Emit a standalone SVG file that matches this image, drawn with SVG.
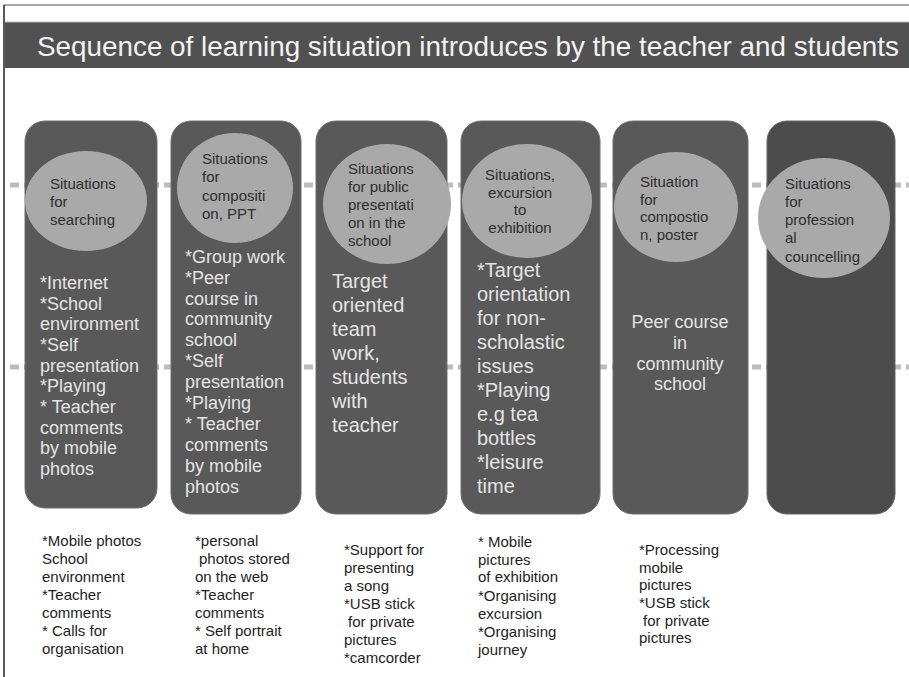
<svg xmlns="http://www.w3.org/2000/svg" width="909" height="677" viewBox="0 0 909 677">
<style>
.col{fill:#595959;stroke:#707070;stroke-width:1}
.col6{fill:#4c4c4c;stroke:#666;stroke-width:1}
.bub{fill:#a9a9a9}
.bt{font-family:"Liberation Sans",Arial,sans-serif;font-size:15px;fill:#2e2e2e}
.body{font-family:"Liberation Sans",Arial,sans-serif;font-size:18px;fill:#e4e4e4}
.big{font-family:"Liberation Sans",Arial,sans-serif;font-size:20px;fill:#e4e4e4}
.note{font-family:"Liberation Sans",Arial,sans-serif;font-size:15px;fill:#1e1e1e}
.guide{stroke:#bcbcbc;stroke-width:5;stroke-dasharray:9 5;fill:none}
</style>
<rect x="0" y="0" width="909" height="677" fill="#ffffff"/>
<line x1="4" y1="5" x2="909" y2="5" stroke="#8a8a8a" stroke-width="1.5"/>
<line x1="4" y1="5" x2="4" y2="677" stroke="#222" stroke-width="1.5"/>
<g id="title">
<rect x="5" y="22" width="904" height="46" fill="#515151"/>
<line x1="5" y1="22" x2="909" y2="22" stroke="#bbb" stroke-width="1"/>
<text x="37" y="56" font-family="'Liberation Sans',Arial,sans-serif" font-size="28" fill="#f2f2f2" textLength="862" lengthAdjust="spacingAndGlyphs">Sequence of learning situation introduces by the teacher and students</text>
</g>
<g id="connectors">
<line class="guide" x1="10" y1="185" x2="909" y2="185"/>
<line class="guide" x1="10" y1="367" x2="909" y2="367"/>
</g>
<g id="col1">
<rect class="col" x="25" y="121" width="132" height="387" rx="20"/>
<ellipse class="bub" cx="86" cy="201" rx="61" ry="50"/>
<text class="bt"><tspan x="50" y="189">Situations</tspan><tspan x="50" y="207">for</tspan><tspan x="50" y="225">searching</tspan></text>
<text class="body"><tspan x="40" y="289">*Internet</tspan><tspan x="40" y="310">*School</tspan><tspan x="40" y="330">environment</tspan><tspan x="40" y="351">*Self</tspan><tspan x="40" y="372">presentation</tspan><tspan x="40" y="392">*Playing</tspan><tspan x="40" y="413">* Teacher</tspan><tspan x="40" y="434">comments</tspan><tspan x="40" y="454">by mobile</tspan><tspan x="40" y="475">photos</tspan></text>
</g>
<g id="col2">
<rect class="col" x="171" y="121" width="130" height="393" rx="20"/>
<ellipse class="bub" cx="235" cy="188" rx="58" ry="55"/>
<text class="bt"><tspan x="202" y="164">Situations</tspan><tspan x="202" y="182">for</tspan><tspan x="202" y="201">compositi</tspan><tspan x="202" y="219">on, PPT</tspan></text>
<text class="body"><tspan x="185" y="263">*Group work</tspan><tspan x="185" y="284">*Peer</tspan><tspan x="185" y="305">course in</tspan><tspan x="185" y="325">community</tspan><tspan x="185" y="346">school</tspan><tspan x="185" y="367">*Self</tspan><tspan x="185" y="388">presentation</tspan><tspan x="185" y="409">*Playing</tspan><tspan x="185" y="430">* Teacher</tspan><tspan x="185" y="451">comments</tspan><tspan x="185" y="472">by mobile</tspan><tspan x="185" y="493">photos</tspan></text>
</g>
<g id="col3">
<rect class="col" x="316" y="121" width="131" height="393" rx="20"/>
<ellipse class="bub" cx="387" cy="204" rx="64" ry="60"/>
<text class="bt"><tspan x="348" y="174">Situations</tspan><tspan x="348" y="192">for public</tspan><tspan x="348" y="210">presentati</tspan><tspan x="348" y="228">on in the</tspan><tspan x="348" y="246">school</tspan></text>
<text class="big"><tspan x="332" y="288">Target</tspan><tspan x="332" y="312">oriented</tspan><tspan x="332" y="336">team</tspan><tspan x="332" y="360">work,</tspan><tspan x="332" y="384">students</tspan><tspan x="332" y="408">with</tspan><tspan x="332" y="432">teacher</tspan></text>
</g>
<g id="col4">
<rect class="col" x="461" y="121" width="139" height="393" rx="20"/>
<ellipse class="bub" cx="527" cy="201" rx="65" ry="57"/>
<text class="bt" text-anchor="middle"><tspan x="520" y="180">Situations,</tspan><tspan x="520" y="198">excursion</tspan><tspan x="520" y="215">to</tspan><tspan x="520" y="233">exhibition</tspan></text>
<text class="big"><tspan x="477" y="277">*Target</tspan><tspan x="477" y="301">orientation</tspan><tspan x="477" y="325">for non-</tspan><tspan x="477" y="349">scholastic</tspan><tspan x="477" y="373">issues</tspan><tspan x="477" y="397">*Playing</tspan><tspan x="477" y="421">e.g tea</tspan><tspan x="477" y="445">bottles</tspan><tspan x="477" y="469">*leisure</tspan><tspan x="477" y="493">time</tspan></text>
</g>
<g id="col5">
<rect class="col" x="613" y="121" width="135" height="393" rx="20"/>
<ellipse class="bub" cx="676" cy="207" rx="62" ry="55"/>
<text class="bt"><tspan x="640" y="187">Situation</tspan><tspan x="640" y="205">for</tspan><tspan x="640" y="222">compostio</tspan><tspan x="640" y="240">n, poster</tspan></text>
<text class="body" text-anchor="middle"><tspan x="680" y="328">Peer course</tspan><tspan x="680" y="349">in</tspan><tspan x="680" y="370">community</tspan><tspan x="680" y="390">school</tspan></text>
</g>
<g id="col6">
<rect class="col6" x="767" y="121" width="128" height="393" rx="20"/>
<ellipse class="bub" cx="824" cy="218" rx="66" ry="60"/>
<text class="bt"><tspan x="785" y="189">Situations</tspan><tspan x="785" y="207">for</tspan><tspan x="785" y="225">profession</tspan><tspan x="785" y="243">al</tspan><tspan x="785" y="262">councelling</tspan></text>
</g>
<g id="note1">
<text class="note"><tspan x="42" y="546">*Mobile photos</tspan><tspan x="42" y="564">School</tspan><tspan x="42" y="582">environment</tspan><tspan x="42" y="600">*Teacher</tspan><tspan x="42" y="618">comments</tspan><tspan x="42" y="636">* Calls for</tspan><tspan x="42" y="654">organisation</tspan></text>
</g>
<g id="note2">
<text class="note"><tspan x="195" y="546">*personal</tspan><tspan x="199" y="564">photos stored</tspan><tspan x="195" y="582">on the web</tspan><tspan x="195" y="600">*Teacher</tspan><tspan x="195" y="618">comments</tspan><tspan x="195" y="636">* Self portrait</tspan><tspan x="195" y="654">at home</tspan></text>
</g>
<g id="note3">
<text class="note"><tspan x="344" y="555">*Support for</tspan><tspan x="344" y="573">presenting</tspan><tspan x="344" y="591">a song</tspan><tspan x="344" y="609">*USB stick</tspan><tspan x="348" y="627">for private</tspan><tspan x="344" y="645">pictures</tspan><tspan x="344" y="663">*camcorder</tspan></text>
</g>
<g id="note4">
<text class="note"><tspan x="478" y="547">* Mobile</tspan><tspan x="478" y="565">pictures</tspan><tspan x="478" y="582">of exhibition</tspan><tspan x="478" y="601">*Organising</tspan><tspan x="478" y="619">excursion</tspan><tspan x="478" y="637">*Organising</tspan><tspan x="478" y="655">journey</tspan></text>
</g>
<g id="note5">
<text class="note"><tspan x="639" y="555">*Processing</tspan><tspan x="639" y="573">mobile</tspan><tspan x="639" y="590">pictures</tspan><tspan x="639" y="608">*USB stick</tspan><tspan x="643" y="626">for private</tspan><tspan x="639" y="643">pictures</tspan></text>
</g>
</svg>
